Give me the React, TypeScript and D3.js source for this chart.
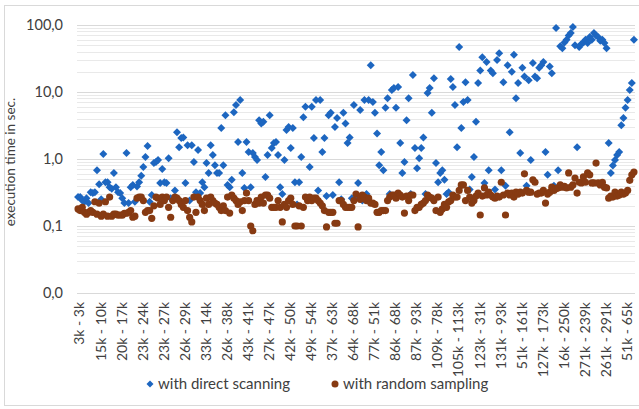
import * as d3 from "d3";

// execution time in seconds per query
const directScanning = [
  0.27, 0.27, 0.24, 0.23, 0.26, 0.22, 0.32, 0.31, 0.32, 0.68,
  0.42, 0.25, 1.19, 0.45, 0.45, 0.38, 0.36, 0.62, 0.38, 0.32,
  0.31, 0.26, 0.22, 1.23, 0.22, 0.38, 0.41, 0.23, 0.39, 0.45,
  0.56, 0.76, 1.07, 1.56, 0.23, 0.29, 0.87, 0.9, 0.97, 0.44,
  0.71, 0.45, 0.44, 1.03, 0.26, 0.24, 0.34, 2.5, 1.5, 2.06,
  2.1, 0.44, 1.6, 0.24, 1.6, 0.9, 0.32, 1.36, 0.31, 0.45,
  0.38, 0.87, 0.62, 1.6, 1.15, 0.81, 0.62, 0.62, 2.9, 0.81,
  4.5, 0.41, 0.38, 0.49, 5.0, 6.4, 1.8, 7.6, 0.62, 0.37,
  1.8, 1.27, 0.38, 1.23, 1.07, 0.97, 3.8, 3.4, 3.6, 0.54,
  1.15, 4.5, 1.46, 1.73, 1.8, 1.15, 0.38, 0.3, 0.97, 2.7,
  3.0, 1.46, 2.9, 0.45, 0.21, 0.45, 1.07, 4.2, 6.0, 0.26,
  0.76, 6.0, 2.06, 7.6, 0.34, 7.6, 1.27, 2.06, 0.28, 4.5,
  4.9, 0.29, 3.0, 4.1, 0.45, 0.25, 4.9, 3.4, 1.73, 2.1,
  0.26, 6.4, 0.26, 0.44, 5.4, 0.24, 7.6, 0.3, 7.6, 25,
  7.1, 4.9, 2.4, 0.81, 1.27, 0.68, 5.8, 8.1, 0.3, 10.7,
  11.5, 5.8, 11.9, 1.73, 0.62, 0.9, 3.8, 8.1, 0.3, 18,
  1.46, 0.73, 1.03, 1.46, 2.1, 0.3, 9.7, 11.5, 4.9, 16,
  0.87, 0.45, 0.62, 0.68, 0.49, 0.3, 0.32, 15.6, 11.9, 6.4,
  1.5, 47, 2.9, 7.1, 14, 7.6, 0.35, 0.54, 1.07, 3.6,
  13.6, 21, 33, 0.44, 28, 0.68, 21, 19, 0.35, 30,
  38, 0.68, 14, 0.4, 25, 2.5, 20, 36, 8.1, 13.6,
  1.23, 23, 17, 0.4, 15, 0.97, 27, 17, 16, 23,
  25, 28, 1.27, 0.58, 24, 19, 0.4, 90, 0.68, 48,
  45, 55, 60, 70, 76, 93, 50, 1.5, 47, 52,
  55, 60, 54, 66, 60, 76, 70, 66, 58, 60,
  54, 45, 1.73, 0.62, 0.8, 0.97, 1.15, 1.27, 3.2, 4.1,
  5.8, 7.6, 10.7, 13.6, 60,
];

const randomSampling = [
  0.18, 0.17, 0.19, 0.16, 0.15, 0.16, 0.17, 0.16, 0.23, 0.15,
  0.22, 0.14, 0.15, 0.23, 0.14, 0.27, 0.14, 0.15, 0.15, 0.145,
  0.146, 0.145, 0.155, 0.155, 0.16, 0.17, 0.135, 0.14, 0.26, 0.27,
  0.27, 0.24, 0.16, 0.17, 0.17, 0.13, 0.2, 0.27, 0.26, 0.21,
  0.27, 0.24, 0.27, 0.19, 0.135, 0.24, 0.27, 0.26, 0.24, 0.21,
  0.19, 0.24, 0.17, 0.135, 0.115, 0.27, 0.16, 0.27, 0.24, 0.21,
  0.17, 0.26, 0.21, 0.27, 0.24, 0.22, 0.21, 0.19, 0.17, 0.2,
  0.17, 0.27, 0.156, 0.29, 0.26, 0.24, 0.21, 0.23, 0.17, 0.24,
  0.31, 0.24, 0.1, 0.085, 0.21, 0.24, 0.22, 0.27, 0.22, 0.29,
  0.29, 0.26, 0.19, 0.19, 0.19, 0.24, 0.19, 0.115, 0.21, 0.19,
  0.24, 0.26, 0.21, 0.1, 0.1, 0.2, 0.1, 0.19, 0.27, 0.24,
  0.27, 0.24, 0.26, 0.26, 0.24, 0.22, 0.2, 0.17, 0.097, 0.16,
  0.16, 0.16, 0.11, 0.11, 0.24, 0.24, 0.21, 0.19, 0.19, 0.19,
  0.19, 0.24, 0.3, 0.097, 0.25, 0.29, 0.27, 0.24, 0.26, 0.22,
  0.22, 0.21, 0.16, 0.16, 0.17, 0.17, 0.17, 0.24, 0.27, 0.29,
  0.29, 0.26, 0.31, 0.29, 0.27, 0.156, 0.28, 0.24, 0.29, 0.29,
  0.17, 0.19, 0.19, 0.21, 0.22, 0.24, 0.29, 0.27, 0.26, 0.24,
  0.17, 0.27, 0.16, 0.18, 0.21, 0.19, 0.23, 0.24, 0.29, 0.27,
  0.27, 0.34, 0.41, 0.41, 0.24, 0.34, 0.27, 0.22, 0.24, 0.28,
  0.31, 0.146, 0.28, 0.37, 0.29, 0.32, 0.29, 0.27, 0.26, 0.28,
  0.27, 0.45, 0.29, 0.146, 0.31, 0.29, 0.31, 0.27, 0.32, 0.3,
  0.32, 0.31, 0.6, 0.34, 0.32, 0.32, 0.49, 0.45, 0.3, 0.31,
  0.31, 0.34, 0.22, 0.3, 0.32, 0.38, 0.34, 0.36, 0.37, 0.41,
  0.38, 0.39, 0.37, 0.62, 0.38, 0.41, 0.52, 0.31, 0.45, 0.44,
  0.54, 0.45, 0.62, 0.58, 0.44, 0.44, 0.87, 0.44, 0.41, 0.45,
  0.38, 0.37, 0.26, 0.28, 0.27, 0.32, 0.28, 0.29, 0.32, 0.3,
  0.31, 0.34, 0.48, 0.58, 0.64,
];

// only every 10th category is labelled on the axis
const tickLabels = [
  "3k - 3k", "15k - 10k", "20k - 17k", "23k - 24k", "23k - 27k", "26k - 29k",
  "33k - 14k", "26k - 38k", "43k - 41k", "27k - 47k", "42k - 50k", "49k - 54k",
  "37k - 63k", "64k - 68k", "77k - 51k", "86k - 68k", "87k - 93k", "109k - 78k",
  "105k - 113k", "123k - 31k", "131k - 93k", "51k - 161k", "127k - 173k",
  "16k - 250k", "271k - 239k", "261k - 291k", "51k - 65k",
];
const labelStep = 10;

const yTicks = [0.01, 0.1, 1, 10, 100];
const seriesNames = ["with direct scanning", "with random sampling"];

const BLUE = "#1d66c0";
const BROWN = "#873a12";
const FONT = "Lato, 'Noto Sans', sans-serif";

const diamond = (r: number) => `M0,${-r}L${r},0L0,${r}L${-r},0Z`;

export default function App() {
  const width = 639, height = 409;
  const left = 77, right = 635, top = 25, bottom = 293;

  const x = d3
    .scalePoint<number>()
    .domain(d3.range(directScanning.length))
    .range([left, right])
    .padding(0.5);
  const y = d3.scaleLog().domain([0.01, 100]).range([bottom, top]);

  // log gridlines: 1..9 per decade
  const grid: { v: number; major: boolean }[] = [];
  for (let e = -2; e < 2; e++) {
    for (let m = 1; m <= 9; m++) grid.push({ v: m * Math.pow(10, e), major: m === 1 });
  }
  grid.push({ v: 100, major: true });

  const fmt = (v: number) => v.toFixed(1).replace(".", ",");

  return (
    <svg
      width={width}
      height={height}
      style={{ position: "absolute", left: 0, top: 0, background: "#fff" }}
      fontFamily={FONT}
    >
      <rect x={4.5} y={5.5} width={640} height={400} fill="#fff" stroke="#d9d9d9" />

      {grid.map((g, i) => (
        <line
          key={i}
          x1={left}
          x2={right}
          y1={Math.round(y(g.v)) + 0.5}
          y2={Math.round(y(g.v)) + 0.5}
          stroke={g.major ? "#d9d9d9" : "#e9e9e9"}
          strokeWidth={1}
        />
      ))}

      {yTicks.map((t) => (
        <text key={t} x={63} y={y(t)} dy="0.35em" textAnchor="end" fontSize={14.5} fill="#404040">
          {fmt(t)}
        </text>
      ))}

      <text
        transform={`translate(15,${(top + bottom) / 2 + 3}) rotate(-90)`}
        textAnchor="middle"
        fontSize={13.5}
        fill="#404040"
      >
        execution time in sec.
      </text>

      {tickLabels.map((lab, k) => (
        <text
          key={lab + k}
          transform={`translate(${x(k * labelStep)! + 1.5},302) rotate(-90)`}
          textAnchor="end"
          dy="0.35em"
          fontSize={14}
          fill="#404040"
        >
          {lab}
        </text>
      ))}

      <g fill={BLUE}>
        {directScanning.map((v, i) => (
          <path key={i} d={diamond(4)} transform={`translate(${x(i)},${y(v)})`} />
        ))}
      </g>
      <g fill={BROWN}>
        {randomSampling.map((v, i) => (
          <circle key={i} cx={x(i)} cy={y(v)} r={3.6} />
        ))}
      </g>

      <g fontSize={15} fill="#404040">
        <path d={diamond(3.5)} transform="translate(150,384)" fill={BLUE} />
        <text x={158} y={384} dy="0.35em">{seriesNames[0]}</text>
        <circle cx={335} cy={384} r={3.5} fill={BROWN} />
        <text x={343} y={384} dy="0.35em">{seriesNames[1]}</text>
      </g>
    </svg>
  );
}
